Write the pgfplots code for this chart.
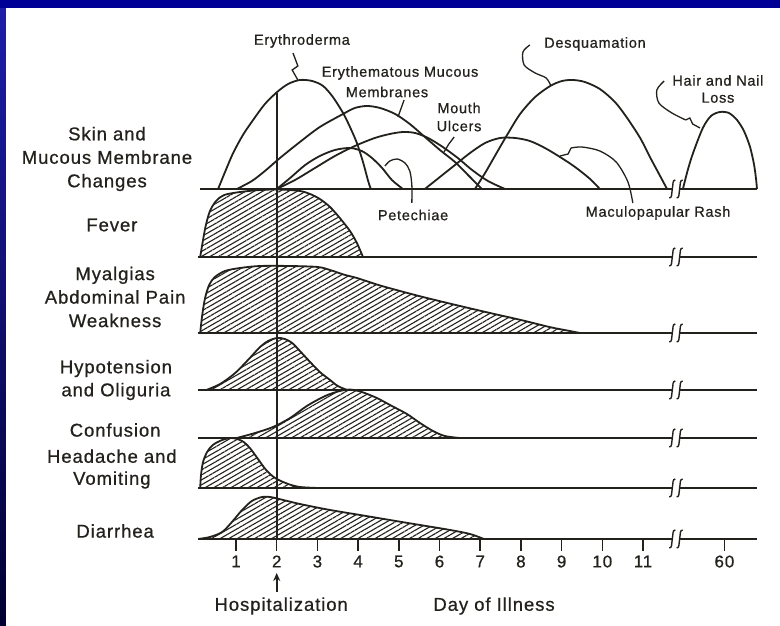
\documentclass[border=0pt]{standalone}
\usepackage{fontspec}
\setmainfont{Liberation Sans}[LetterSpace=5,FakeBold=0.7]
\usepackage{pgfplots}
\pgfplotsset{compat=1.18}
\usetikzlibrary{patterns.meta,arrows.meta,backgrounds}
\definecolor{ink}{RGB}{35,33,28}
\definecolor{navy}{RGB}{0,0,150}
\definecolor{navytop}{RGB}{30,30,170}
\definecolor{navybot}{RGB}{0,0,50}
\newcommand{\rowfont}{\fontsize{18.5}{23.5}\selectfont}
\newcommand{\annfont}{\fontsize{14.5}{18}\selectfont}
% break symbol on a baseline at height #1
\newcommand{\brk}[1]{%
  \draw[ink,line width=1.4pt] ([shift={(-3pt,-9pt)}]axis cs:11.72,#1) .. controls +(3pt,0.5pt) and +(-1pt,-6pt) .. (axis cs:11.72,#1) .. controls +(1pt,6pt) and +(-3pt,-0.5pt) .. ([shift={(3pt,9pt)}]axis cs:11.72,#1);
  \draw[ink,line width=1.4pt] ([shift={(-3pt,-9pt)}]axis cs:11.90,#1) .. controls +(3pt,0.5pt) and +(-1pt,-6pt) .. (axis cs:11.90,#1) .. controls +(1pt,6pt) and +(-3pt,-0.5pt) .. ([shift={(3pt,9pt)}]axis cs:11.90,#1);
}
\begin{document}
\begin{tikzpicture}
\begin{axis}[
  x=40.7pt, y=1pt,
  xmin=0.07, xmax=13.8, ymin=0, ymax=539,
  clip=false,
  axis x line*=bottom, axis y line=none,
  x axis line style={draw=none},
  xtick={1,2,3,4,5,6,7,8,9,10,11,13},
  xticklabels={1,2,3,4,5,6,7,8,9,10,11,60},
  xtick align=outside,
  major tick length=12pt,
  xtick style={ink,line width=1.5pt},
  xticklabel style={font=\fontsize{17}{17}\selectfont,text=ink,yshift=-1pt},
  /pgf/number format/assume math mode=true,
  no markers,
  every axis plot/.append style={ink,line width=1.8pt},
]
% ---------- frame corners
\coordinate (BL) at (axis cs:-4.799,-87);
\coordinate (TR) at (axis cs:14.366,539);
\coordinate (TL) at (axis cs:-4.799,539);
\coordinate (TRb) at (axis cs:14.366,531);
\coordinate (LSb) at (axis cs:-4.652,-87);

% ---------- baselines
\addplot[line width=1.6pt] coordinates {(0.12,350) (11.72,350)};
\addplot[line width=1.6pt] coordinates {(11.90,350) (13.80,350)};
\foreach \yb in {282,206,149,101,51,0}{
  \addplot[line width=1.6pt] coordinates {(0.07,\yb) (11.72,\yb)};
  \addplot[line width=1.6pt] coordinates {(11.90,\yb) (13.80,\yb)};
}
\brk{350}\brk{282}\brk{206}\brk{149}\brk{101}\brk{51}\brk{0}

% ---------- Skin and mucous membrane changes (outlines)
% Erythroderma
\addplot[smooth,tension=0.5] coordinates {(0.56,350)(0.73,367)(0.93,386)(1.17,404)(1.42,419)(1.71,435)(2.01,447)(2.28,455)(2.57,459)(2.87,458)(3.14,453)(3.38,442)(3.63,426)(3.80,412)(3.97,396)(4.12,377)(4.24,359)(4.31,350)};
% Erythematous mucous membranes
\addplot[smooth,tension=0.5] coordinates {(1.02,350)(1.39,358)(1.71,368)(2.08,381)(2.57,397)(3.06,412)(3.63,425)(3.92,431)(4.22,433)(4.54,431)(4.91,425)(5.27,415)(5.64,402)(6.01,389)(6.38,377)(6.70,364)(7.04,350)};
% Petechiae
\addplot[smooth,tension=0.5] coordinates {(2.00,350)(2.33,361)(2.70,374)(3.06,383)(3.43,389)(3.80,391)(4.09,388)(4.34,381)(4.59,371)(4.83,359)(5.10,350)};
% Mouth ulcers
\addplot[smooth,tension=0.5] coordinates {(2.00,350)(2.45,359)(2.94,371)(3.43,383)(3.92,393)(4.41,401)(4.78,405)(5.10,407)(5.40,406)(5.72,401)(6.08,392)(6.45,381)(6.80,369)(7.19,358)(7.61,350)};
% Maculopapular rash
\addplot[smooth,tension=0.5] coordinates {(5.64,350)(6.01,362)(6.38,374)(6.75,386)(7.12,396)(7.49,401)(7.86,401)(8.22,398)(8.59,391)(8.96,382)(9.33,372)(9.70,360)(9.94,350)};
% Desquamation
\addplot[smooth,tension=0.5] coordinates {(6.87,350)(7.12,366)(7.36,383)(7.66,404)(7.98,425)(8.35,442)(8.72,453)(9.01,458)(9.28,459)(9.57,457)(9.94,450)(10.31,437)(10.61,421)(10.93,401)(11.17,382)(11.42,363)(11.59,350)};
% Hair and nail loss
\addplot[smooth,tension=0.5] coordinates {(11.98,350)(12.10,369)(12.23,386)(12.47,411)(12.67,423)(12.89,427)(13.11,426)(13.31,419)(13.48,408)(13.63,392)(13.73,374)(13.78,359)(13.80,350)};

% ---------- hatched rows
\tikzset{hatch/.style={pattern={Lines[angle=30,distance=4.3pt,line width=1.1pt]},pattern color=ink}}
% Fever
\addplot[hatch,smooth,tension=0.5] coordinates {(0.12,282)(0.19,299)(0.26,314)(0.36,328)(0.51,338)(0.71,344)(1.10,347)(1.59,349)(2.08,349.5)(2.57,348)(2.82,345)(3.06,340)(3.31,332)(3.55,321)(3.80,308)(3.97,296)(4.12,282)} -- cycle;
% Myalgias, abdominal pain, weakness
\addplot[hatch,smooth,tension=0.5] coordinates {(0.12,206)(0.17,224)(0.24,241)(0.34,254)(0.48,262)(0.73,268)(1.10,271)(1.59,273)(2.33,273)(3.01,272)(3.31,269)(3.68,264)(3.97,261)(4.50,254)(5.03,248)(5.59,242)(6.40,234)(7.24,226)(8.00,219)(8.70,212)(9.20,208)(9.45,206)} -- cycle;
% Hypotension and oliguria
\addplot[hatch,smooth,tension=0.5] coordinates {(0.27,149)(0.61,155)(0.98,166)(1.34,181)(1.59,192)(1.79,198)(2.01,201)(2.20,200)(2.38,196)(2.57,188)(2.82,177)(3.06,167)(3.31,159)(3.50,153)(3.73,149)} -- cycle;
% Confusion
\addplot[hatch,smooth,tension=0.5] coordinates {(1.02,101)(1.47,106)(1.91,112)(2.33,121)(2.74,133)(3.19,143)(3.55,148)(3.80,149.5)(4.09,147)(4.46,141)(4.83,133)(5.20,125)(5.52,116)(5.84,108)(6.13,103)(6.50,101)} -- cycle;
% Headache and vomiting
\addplot[hatch,smooth,tension=0.5] coordinates {(0.12,51)(0.14,64)(0.19,77)(0.29,87)(0.43,94)(0.66,99)(0.90,101)(1.15,98)(1.34,91)(1.54,80)(1.74,69)(1.96,61)(2.28,55)(2.57,52)(3.01,51)} -- cycle;
% Diarrhea
\addplot[hatch,smooth,tension=0.5] coordinates {(0.07,0)(0.36,2)(0.66,7)(0.90,17)(1.15,29)(1.39,38)(1.64,42)(1.84,42)(2.06,40)(2.57,35)(3.31,29)(4.05,24)(4.78,19)(5.52,14)(6.26,9)(6.75,5)(7.09,0)} -- cycle;

% ---------- hospitalization line and arrow
\addplot[line width=1.6pt] coordinates {(2,0) (2,446)};
\draw[ink,line width=1.6pt,-{Stealth[length=8pt,width=7pt]}] (axis cs:2,-53) -- (axis cs:2,-34);

% ---------- pointers
\addplot[line width=1.3pt] coordinates {(2.40,486)(2.52,473)(2.38,469)(2.52,459)};
\addplot[line width=1.3pt] coordinates {(5.13,439)(5.05,430)(4.98,422)};
\addplot[line width=1.3pt] coordinates {(6.36,402)(6.23,395)(6.11,387)};
\addplot[line width=1.3pt,smooth] coordinates {(8.22,494)(8.05,487)(8.08,474)(8.35,466)(8.62,461)(8.74,453)};
\addplot[line width=1.3pt,smooth] coordinates {(11.52,458)(11.34,449)(11.39,436)(11.71,426)(12.05,419)};
\addplot[line width=1.3pt] coordinates {(12.05,419)(12.15,421)(12.22,415)(12.40,411)};
\addplot[line width=1.3pt,smooth] coordinates {(5.32,336)(5.32,354)(5.27,368)(5.15,376)(4.96,380)(4.78,378)(4.66,373)};
\addplot[line width=1.3pt,smooth] coordinates {(10.75,336)(10.63,357)(10.34,377)(9.94,388)(9.50,392)(9.23,391)};
\addplot[line width=1.3pt] coordinates {(9.23,391)(9.16,385)(8.96,383)};

% ---------- annotations
\node[text=ink,font=\annfont] at (axis cs:2.62,498) {Erythroderma};
\node[text=ink,font=\annfont] at (axis cs:5.03,466) {Erythematous Mucous};
\node[text=ink,font=\annfont] at (axis cs:4.71,447) {Membranes};
\node[text=ink,font=\annfont,align=center] at (axis cs:6.48,422) {Mouth\\Ulcers};
\node[text=ink,font=\annfont] at (axis cs:9.82,495) {Desquamation};
\node[text=ink,font=\fontsize{14.5}{17}\selectfont,align=center] at (axis cs:12.84,450) {Hair and Nail\\Loss};
\node[text=ink,font=\annfont] at (axis cs:5.35,324) {Petechiae};
\node[text=ink,font=\annfont] at (axis cs:11.37,326) {Maculopapular Rash};

% ---------- row labels
\node[text=ink,font=\rowfont,align=center] at (axis cs:-2.17,380) {Skin and\\Mucous Membrane\\Changes};
\node[text=ink,font=\rowfont] at (axis cs:-2.05,314) {Fever};
\node[text=ink,font=\rowfont,align=center] at (axis cs:-1.97,242) {Myalgias\\Abdominal Pain\\Weakness};
\node[text=ink,font=\fontsize{18.5}{23}\selectfont,align=center] at (axis cs:-1.95,159) {Hypotension\\and Oliguria};
\node[text=ink,font=\rowfont] at (axis cs:-1.97,109) {Confusion};
\node[text=ink,font=\fontsize{18.5}{22}\selectfont,align=center] at (axis cs:-2.05,70) {Headache and\\Vomiting};
\node[text=ink,font=\rowfont] at (axis cs:-1.97,8) {Diarrhea};

% ---------- axis captions
\node[text=ink,font=\rowfont] at (axis cs:2.11,-67) {Hospitalization};
\node[text=ink,font=\rowfont] at (axis cs:7.34,-67) {Day of Illness};
\end{axis}
\begin{scope}[on background layer]
  \fill[white] (BL) rectangle (TR);
  \shade[top color=navytop,bottom color=navybot] (TL) rectangle (LSb);
  \fill[navy] (TL) rectangle (TRb);
\end{scope}
\pgfresetboundingbox
\path (BL) rectangle (TR);
\end{tikzpicture}
\end{document}
